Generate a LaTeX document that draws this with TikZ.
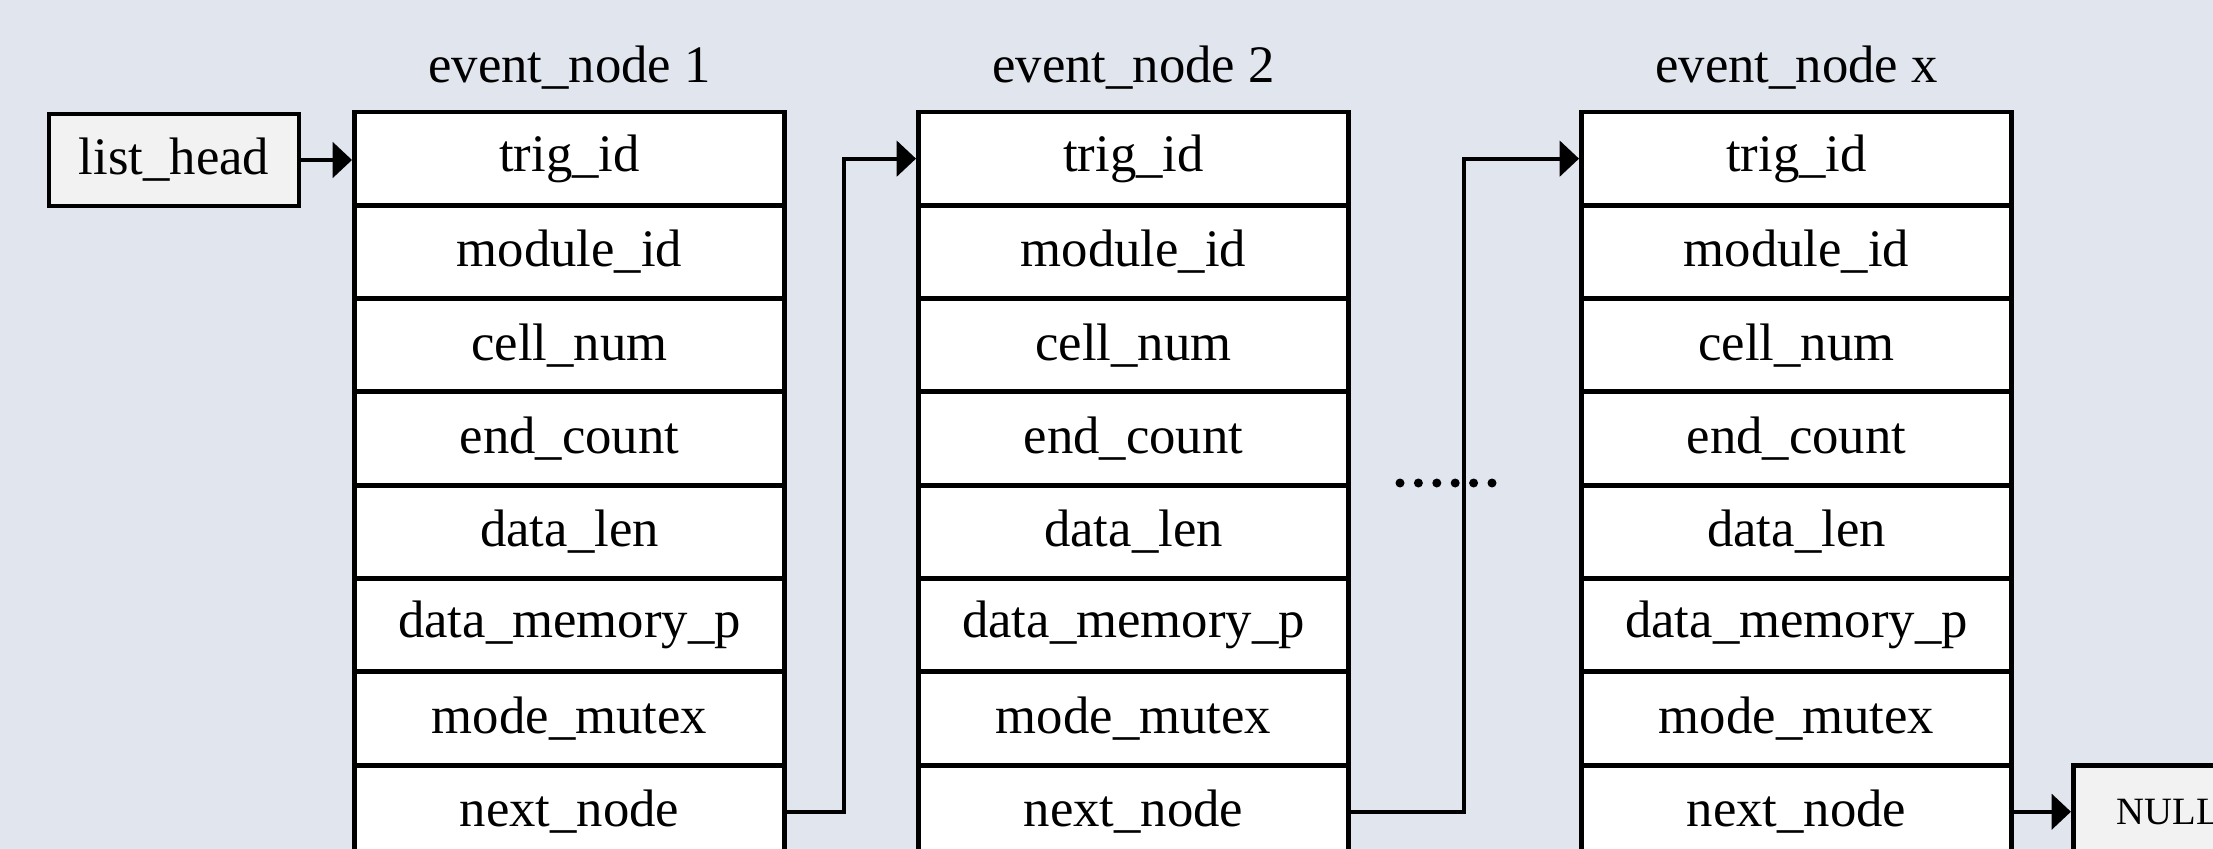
\documentclass[tikz,border=0pt]{standalone}
\usepackage{fontspec}
\setmainfont{Liberation Serif}
\usetikzlibrary{arrows.meta}
\usetikzlibrary{positioning}
\definecolor{bgblue}{HTML}{E1E5EE}
\definecolor{headgray}{HTML}{F2F2F2}
\tikzset{field/.style = {draw, fill=white, line width=1.4pt, minimum width=4.3cm,
                         minimum height=0.933cm, inner sep=0, font=\fontsize{15}{18}\selectfont}}
\tikzset{endbox/.style = {draw, fill=headgray, line width=1.3pt, minimum height=0.92cm, inner sep=0}}
\tikzset{link/.style = {line width=1.2pt, -{Triangle[length=5.5pt, width=10pt]}}}
\tikzset{dot/.style = {fill, circle, inner sep = 0, minimum size = 0.09cm}}

\begin{document}
\begin{tikzpicture}
    \fill [bgblue] (0, 0) rectangle (22.13, -8.49);
    \useasboundingbox (0, 0) rectangle (22.13, -8.49);
    \clip (0, 0) rectangle (22.13, -8.49);

    \foreach \col/\x/\tag in {1/5.695/1, 2/11.335/2, 3/17.965/x} {
        \foreach \f [count=\r] in {trig\_id, module\_id, cell\_num, end\_count,
                                   data\_len, data\_memory\_p, mode\_mutex, next\_node} {
            \node [field] (n\col-\r) at (\x, -0.6535 - 0.933*\r) {\f};
        }
        \node [anchor=base, font=\fontsize{15}{18}\selectfont] (t\col) at (\x, -0.83) {event\_node \tag};
    }

    \node [endbox, minimum width=2.5cm, font=\fontsize{15}{18}\selectfont] (head) at (1.74, -1.6) {list\_head};
    \node [endbox, minimum width=1.9cm, font=\fontsize{11}{13}\selectfont, right=0.57cm of n3-8] (null) {NULL};

    \foreach \k in {0,...,5}
        \node [dot] (d\k) at (14.0 + 0.184*\k, -4.83) {};

    \draw [link] (head.east) -- (head.east -| n1-1.west);
    \draw [link] (n1-8.east) -- ++(0.57, 0) |- (n2-1.west);
    \draw [link] (n2-8.east) -- ++(1.13, 0) |- (n3-1.west);
    \draw [link] (n3-8.east) -- (null.west);
  \end{tikzpicture}
\end{document}
